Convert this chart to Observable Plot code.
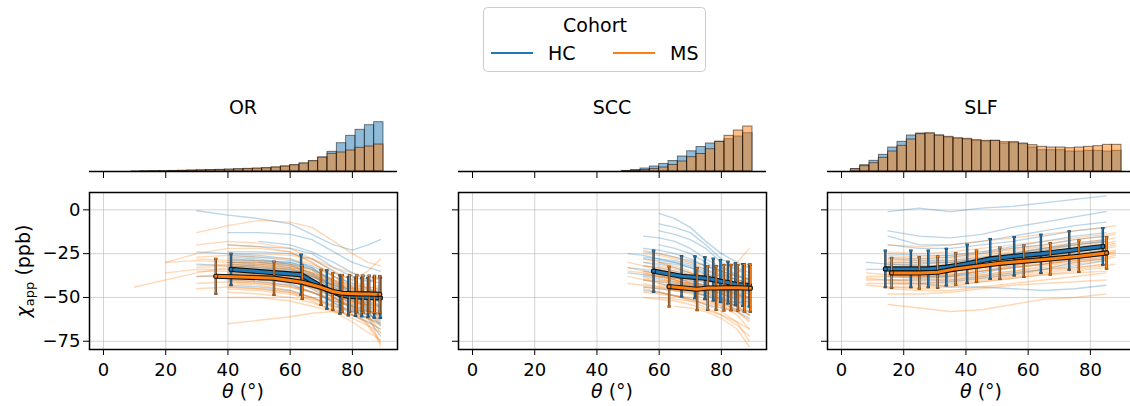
<!DOCTYPE html>
<html><head><meta charset="utf-8">
<script src="https://cdn.jsdelivr.net/npm/d3@7"></script>
<script src="https://cdn.jsdelivr.net/npm/@observablehq/plot@0.6"></script>
<style>
body{margin:0;background:#fff;font-family:"DejaVu Sans",sans-serif;}
#root{position:relative;width:1130px;height:406px;overflow:hidden;background:#fff;}
#root svg{position:absolute;overflow:visible;}
</style></head><body><div id="root"></div>
<script>
// ---------- data ----------
const panels = ["OR", "SCC", "SLF"];
const cohorts = ["HC", "MS"];
const cohortColors = ["#1f77b4", "#ff7f0e"];
const xTicks = [0, 20, 40, 60, 80];
const yTicks = [0, -25, -50, -75];

// histogram bins (lower edges, degrees)
const binStarts = [0,3,6,9,12,15,18,21,24,27,30,33,36,39,42,45,48,51,54,57,60,63,66,69,72,75,78,81,84,87];
const binWidth = 3;
const histOR_HC  = [0,0,0,0,0.1,0.2,0.3,0.5,0.6,0.8,1.0,1.2,1.4,1.7,2.0,2.3,2.7,3.0,3.7,4.7,6.0,7.7,10,14,19.7,28.3,35.7,41.7,46.3,49.3];
const histOR_MS  = [0,0,0,0.2,0.2,0.3,0.4,0.6,0.8,1.0,1.2,1.4,1.7,2.0,2.3,2.7,3.0,3.4,4.2,5.2,6.4,8.2,10.5,14,17.7,19,21,23.7,25,27];
const histSCC_HC = [0,0,0,0,0,0,0,0,0,0,0,0,0,0,0,0,0.6,1.5,3,5,7.6,10.5,15,20.2,24.5,28,29.8,32.3,35,38.3];
const histSCC_MS = [0,0,0,0,0,0,0,0,0,0,0,0,0,0,0,0,0.3,0.7,1.5,2.6,4,6.5,10,14.3,17.5,22.3,29.7,35.7,41,45];
const histSLF_HC = [0,2.3,6.3,10.7,16.7,24,29.7,36,38,37.7,36,34,32.7,32,30.7,30,30.7,28,28.7,27.3,24,21.3,21.3,21.3,20,20,20.7,20.7,20,20.7];
const histSLF_MS = [0,2.3,5.3,8.3,13.7,20,25.7,32,37.3,38.3,36,34.7,33.3,32.7,31.3,30.7,30.7,29.3,29.3,28,26.3,24.7,24,24,23.3,24,24.7,25.3,26.7,26.7];

// individual subject curves (chi_app in ppb at each panel's theta grid)
const gridOR  = [10,20,30,40,50,60,67,74,80,85,89];
const gridSCC = [50,55,60,65,70,75,80,85,89];
const gridSLF = [8,15,25,35,45,55,65,75,85,88];
const linesOR_HC = [
[null,null,-0.5,-3,-5,-8,-14,-20,-23,-20,-17],
[null,null,null,-13,-13,-14,-17,-24,-30,-33,-35],
[null,null,null,-20,-21,-22,-25,-33,-38,-41,-38],
[null,null,-24,-25,-26,-28,-33,-42,-48,-52,-55],
[null,null,null,-28,-29,-30,-34,-44,-52,-56,-60],
[null,null,null,-30,-31,-33,-38,-45,-55,-60,-63],
[null,null,-31,-32,-33,-35,-40,-48,-54,-58,-66],
[null,null,null,-33,-34,-36,-42,-50,-57,-62,-72],
[null,null,null,-36,-37,-40,-45,-53,-60,-64,-68],
[null,null,null,-38,-39,-42,-47,-52,-55,-58,-60],
[null,null,null,-43,-44,-46,-50,-55,-58,-60,-62],
[null,null,null,-26,-27,-29,-32,-38,-42,-45,-47],
[null,null,null,null,-18,-20,-24,-30,-36,-40,-42],
[null,null,null,-35,-36,-37,-40,-46,-50,-48,-45],
[null,null,null,null,-40,-41,-44,-48,-50,-51,-52],
[null,null,-38,-37,-38,-40,-44,-50,-56,-60,-58],
[null,null,null,-30,-30,-32,-36,-44,-50,-53,-55],
[null,null,null,-34,-35,-37,-42,-48,-52,-54,-56],
[null,null,null,-27,-28,-31,-37,-46,-51,-50,-48],
[null,null,null,-40,-41,-43,-47,-53,-58,-62,-65],
[null,null,null,-32,-33,-34,-38,-43,-46,-47,-44],
[null,null,null,null,-30,-31,-34,-40,-47,-55,-58],
[null,null,null,-24,-24,-25,-28,-35,-44,-50,-52],
[null,null,null,-37,-38,-39,-42,-47,-49,-50,-53],
[null,null,null,-31,-32,-34,-37,-43,-49,-57,-61],
[null,null,null,-29,-29,-30,-33,-41,-47,-49,-50]
];
const linesOR_MS = [
[-44,-40,-36,-33,-31,-32,-36,-45,-50,-55,-60],
[null,-30,-25,-22,-22,-24,-30,-38,-45,-50,-55],
[null,null,-20,-18,-19,-22,-28,-35,-40,-45,-48],
[null,null,-28,-29,-30,-31,-34,-40,-45,-48,-50],
[null,null,-35,-35,-36,-38,-42,-48,-53,-57,-62],
[null,null,null,-38,-39,-41,-45,-50,-55,-60,-70],
[null,null,-45,-44,-45,-47,-50,-54,-58,-62,-66],
[null,null,null,-50,-50,-52,-55,-58,-60,-65,-75],
[null,null,null,-33,-34,-35,-40,-46,-52,-55,-58],
[null,null,null,-40,-41,-43,-47,-52,-54,-52,-50],
[null,null,null,-25,-25,-26,-28,-33,-36,-38,-40],
[null,null,-13,-9,-6,-7,-10,-18,-25,-30,-32],
[null,null,null,-42,-43,-46,-50,-56,-62,-66,-70],
[null,null,null,-47,-48,-50,-53,-57,-60,-64,-68],
[null,null,null,-65,-63,-61,-59,-58,-60,-62,-64],
[null,null,-33,-32,-33,-34,-38,-44,-48,-50,-52],
[null,null,null,-30,-30,-32,-36,-42,-46,-42,-38],
[null,-36,-34,-34,-35,-37,-42,-48,-52,-58,-78],
[null,null,null,-37,-37,-39,-43,-50,-56,-66,-76],
[null,null,null,-20,-21,-24,-30,-38,-44,-46,-48],
[null,null,-27,-26,-27,-28,-31,-36,-40,-35,-28],
[null,null,null,-44,-45,-47,-52,-58,-64,-70,-74],
[null,null,null,-36,-37,-38,-42,-47,-50,-52,-54],
[null,null,-32,-31,-32,-34,-38,-43,-47,-49,-51],
[null,null,null,-41,-42,-44,-47,-51,-53,-54,-55],
[null,null,null,-28,-29,-31,-35,-41,-45,-47,-48],
[null,null,-38,-38,-39,-41,-44,-49,-52,-55,-57],
[null,null,null,-34,-35,-37,-41,-46,-49,-51,-50],
[null,null,null,-45,-46,-48,-51,-55,-57,-58,-60],
[null,-30,-29,-30,-31,-33,-37,-42,-45,-45,-43],
[null,null,null,-39,-40,-41,-44,-48,-51,-53,-56],
[null,null,null,-31,-32,-33,-36,-40,-43,-44,-45],
[null,null,-42,-41,-42,-44,-47,-52,-55,-57,-61],
[null,null,null,-36,-36,-38,-42,-47,-51,-55,-65]
];
const linesSCC_HC = [
[null,null,-2,-5,-10,-18,-25,-30,-33],
[null,null,-8,-10,-13,-20,-28,-33,-36],
[null,-15,-16,-18,-22,-28,-33,-37,-40],
[null,-22,-23,-25,-28,-32,-36,-40,-42],
[-25,-26,-28,-30,-33,-37,-40,-43,-45],
[null,-30,-31,-33,-36,-40,-44,-47,-50],
[-33,-34,-35,-37,-40,-44,-48,-52,-55],
[null,-38,-39,-41,-44,-47,-51,-55,-60],
[null,null,-42,-44,-46,-49,-53,-57,-58],
[null,-46,-47,-49,-51,-54,-56,-58,-62],
[null,null,-12,-14,-17,-22,-30,-34,-38],
[null,-28,-29,-30,-32,-35,-38,-42,-44],
[null,null,-20,-22,-25,-30,-35,-38,-40],
[null,-35,-36,-38,-42,-45,-50,-53,-52],
[null,-32,-33,-35,-37,-40,-43,-46,-48],
[null,-27,-28,-29,-31,-34,-37,-40,-41],
[null,null,-36,-37,-39,-42,-45,-48,-50],
[null,-40,-41,-42,-43,-45,-48,-51,-54],
[null,-24,-25,-27,-29,-32,-35,-38,-39],
[null,null,-30,-31,-33,-36,-40,-44,-47],
[-36,-37,-38,-39,-41,-43,-46,-49,-51],
[null,-44,-45,-46,-47,-49,-51,-53,-56]
];
const linesSCC_MS = [
[-30,-32,-34,-36,-38,-40,-42,-44,-46],
[null,-25,-26,-28,-30,-32,-35,-30,-22],
[null,-35,-37,-39,-41,-43,-45,-48,-52],
[-38,-40,-42,-44,-46,-48,-51,-55,-60],
[null,-42,-44,-46,-48,-51,-55,-60,-68],
[null,null,-47,-49,-51,-54,-58,-64,-75],
[null,-45,-47,-49,-52,-56,-60,-66,-72],
[null,-28,-30,-33,-36,-38,-40,-42,-40],
[null,null,-38,-40,-42,-44,-46,-48,-50],
[-33,-35,-37,-40,-43,-46,-50,-54,-57],
[null,-50,-51,-52,-54,-57,-60,-64,-68],
[null,null,-40,-41,-42,-43,-44,-45,-47],
[null,-36,-38,-40,-43,-47,-52,-58,-64],
[null,null,-30,-32,-35,-37,-38,-36,-32],
[null,null,null,-55,-56,-58,-62,-68,-78],
[null,-23,-25,-27,-30,-34,-38,-40,-42],
[null,-44,-45,-46,-47,-49,-52,-55,-58],
[null,-40,-41,-42,-43,-44,-46,-48,-51],
[null,-37,-38,-39,-40,-41,-43,-45,-47],
[-42,-43,-44,-45,-46,-47,-48,-50,-53],
[null,-32,-33,-35,-37,-39,-41,-43,-44],
[null,-47,-48,-49,-50,-52,-54,-57,-60],
[null,null,-43,-44,-45,-46,-47,-49,-50],
[-35,-36,-38,-40,-42,-44,-47,-50,-53],
[null,-39,-40,-41,-42,-44,-46,-47,-48],
[null,-30,-32,-34,-36,-38,-40,-41,-39],
[null,null,-50,-51,-52,-53,-55,-58,-63]
];
const linesSLF_HC = [
[null,-1,1,-1,1,2,4,6,8,null],
[null,-12,-15,-16,-14,-10,-7,-4,-1,null],
[null,-15,-20,-20,-18,-15,-12,-9,-7,null],
[null,-20,-22,-22,-20,-18,-15,-12,-10,null],
[null,-25,-26,-26,-24,-21,-18,-15,-13,null],
[null,-28,-29,-29,-27,-25,-22,-19,-17,null],
[null,-31,-32,-32,-30,-27,-24,-22,-20,null],
[-34,-34,-35,-34,-32,-29,-27,-24,-22,null],
[null,-37,-38,-38,-35,-32,-29,-27,-25,null],
[null,-40,-40,-40,-38,-36,-34,-30,-28,null],
[null,null,-42,-44,-44,-45,-46,-45,-43,null],
[null,-30,-30,-30,-28,-26,-23,-20,-18,null],
[null,-36,-36,-35,-33,-31,-28,-26,-24,null],
[null,-33,-33,-32,-30,-27,-25,-23,-21,null],
[null,-38,-39,-38,-36,-33,-31,-28,-26,null],
[-30,-31,-31,-30,-28,-25,-22,-20,-18,null],
[null,-35,-36,-35,-33,-30,-27,-25,-23,null],
[null,-42,-42,-41,-39,-37,-34,-32,-29,null],
[null,-27,-28,-27,-25,-22,-20,-17,-15,null],
[null,-32,-34,-34,-32,-29,-26,-23,-20,null]
];
const linesSLF_MS = [
[-38,-38,-38,-37,-35,-33,-31,-29,-27,-26],
[-42,-42,-43,-42,-40,-38,-36,-34,-32,-31],
[null,-45,-46,-46,-44,-42,-40,-38,-36,null],
[null,-35,-35,-34,-32,-30,-28,-26,-24,-23],
[null,-32,-32,-31,-29,-27,-25,-23,-21,-20],
[null,-28,-28,-27,-25,-23,-21,-19,-17,-16],
[null,-24,-25,-24,-22,-20,-18,-16,-14,-13],
[null,-20,-21,-20,-18,-16,-14,-12,-10,-9],
[null,-54,-56,-58,-57,-54,-51,-50,-48,null],
[-40,-40,-41,-40,-38,-36,-34,-33,-31,null],
[null,-36,-37,-36,-34,-32,-30,-28,-26,-25],
[null,-30,-30,-29,-27,-25,-23,-21,-19,-18],
[null,-44,-45,-44,-41,-39,-37,-36,-35,null],
[null,-48,-48,-47,-45,-43,-42,-41,-40,null],
[null,-33,-34,-34,-31,-28,-26,-24,-22,-21],
[null,-26,-27,-26,-24,-22,-20,-17,-15,-14],
[-36,-37,-38,-37,-35,-33,-31,-29,-28,null],
[null,-34,-35,-35,-33,-31,-29,-27,-25,-24],
[-39,-40,-40,-39,-37,-35,-33,-31,-29,null],
[null,-37,-38,-37,-35,-33,-31,-29,-27,null],
[null,-31,-31,-30,-28,-26,-24,-22,-20,-19],
[null,-41,-42,-41,-39,-37,-35,-33,-31,null],
[null,-35,-36,-35,-33,-31,-29,-27,-25,-24],
[null,-29,-29,-28,-26,-24,-22,-20,-18,null],
[-43,-44,-44,-43,-41,-39,-37,-35,-33,null],
[null,-38,-39,-38,-37,-35,-32,-30,-28,-27],
[null,-33,-33,-32,-30,-28,-26,-25,-23,null]
];

// binned cohort means ± SD
const meanOR_HC_theta = [41,63.5,71.8,76,78.7,81,83,85,87,89];
const meanOR_HC_chi   = [-34,-37,-45.5,-48.3,-49.3,-49.6,-49.8,-50,-50.1,-50.2];
const meanOR_HC_sd    = [9,11.5,11,11,11,11,11,11.2,11.5,11.5];
const meanOR_MS_theta = [36.1,54.8,63.9,69.9,73.7,76.7,79.1,81.4,83.4,85.4,87.1,88.8];
const meanOR_MS_chi   = [-37.9,-39,-41.3,-44.2,-46.6,-47.6,-47.8,-47.9,-48,-48,-48.1,-48.2];
const meanOR_MS_sd    = [10,9.5,9.5,10,10.5,10.5,10.5,10.5,10.5,10.5,10.5,10.5];
const meanSCC_HC_theta = [58.2,67.2,71.5,74.7,77.4,79.7,82.1,84.5,86.9,89];
const meanSCC_HC_chi   = [-35,-37.9,-38.5,-39,-39.8,-40.7,-41.5,-42.5,-42.9,-43.2];
const meanSCC_HC_sd    = [11.8,11.6,12,12,12,12,12,12,12,12];
const meanSCC_MS_theta = [63.2,72.2,75.6,78.3,80.8,83.1,85.3,87.4,89.3];
const meanSCC_MS_chi   = [-43.8,-45.3,-44.6,-44.6,-44.5,-44.4,-44.5,-44.6,-44.7];
const meanSCC_MS_sd    = [11.4,12,12.5,12.5,13,13,13,13.5,13.5];
const meanSLF_HC_theta = [14.1,22.3,27.9,33.7,40.4,47.8,55.5,64.1,73.2,84];
const meanSLF_HC_chi   = [-33.7,-33.7,-33.7,-32.7,-30.8,-28,-26.5,-25.1,-23.2,-20.9];
const meanSLF_HC_sd    = [10.5,10.5,10.5,10.5,11,11.4,11,11,11,10.5];
const meanSLF_MS_theta = [16.1,25,30.9,36.7,43.4,50.9,58.6,67.1,76.3,85.2];
const meanSLF_MS_chi   = [-36,-36,-35.6,-33.7,-32.2,-30.5,-29.3,-28,-26.5,-24.6];
const meanSLF_MS_sd    = [8.6,9,9,9,9,9,9,9,9,9];

// ---------- tables ----------
const histSrc = {OR:[histOR_HC,histOR_MS], SCC:[histSCC_HC,histSCC_MS], SLF:[histSLF_HC,histSLF_MS]};
const lineSrc = {OR:[gridOR,linesOR_HC,linesOR_MS], SCC:[gridSCC,linesSCC_HC,linesSCC_MS], SLF:[gridSLF,linesSLF_HC,linesSLF_MS]};
const meanSrc = {
  OR:[[meanOR_HC_theta,meanOR_HC_chi,meanOR_HC_sd],[meanOR_MS_theta,meanOR_MS_chi,meanOR_MS_sd]],
  SCC:[[meanSCC_HC_theta,meanSCC_HC_chi,meanSCC_HC_sd],[meanSCC_MS_theta,meanSCC_MS_chi,meanSCC_MS_sd]],
  SLF:[[meanSLF_HC_theta,meanSLF_HC_chi,meanSLF_HC_sd],[meanSLF_MS_theta,meanSLF_MS_chi,meanSLF_MS_sd]]
};

// ---------- layout ----------
const frameLeft = [89, 458, 827];
const frameW = 308, mainTop = 192, mainH = 157;
const histBase = 170.7, histH = 55;
const ML = 60, MR = 5;
const xDomain = [-4.5, 94.5];
const yDomain = [-79.7, 9.9];
const capHalf = 0.55;
const root = document.getElementById("root");
const baseStyle = {fontFamily: "DejaVu Sans", fontSize: "18px", color: "black", background: "transparent", overflow: "visible"};

function place(svg, left, top) {
  svg.style.left = left + "px";
  svg.style.top = top + "px";
  root.appendChild(svg);
}

panels.forEach((p, pi) => {
  // histogram
  const hrows = [];
  cohorts.forEach((c, ci) => histSrc[p][ci].forEach((v, i) => {
    hrows.push({cohort: c, x1: binStarts[i], x2: binStarts[i] + binWidth, v});
  }));
  const hist = Plot.plot({
    width: ML + frameW + MR, height: histH + 14,
    marginLeft: ML, marginRight: MR, marginTop: 0, marginBottom: 14,
    x: {domain: xDomain, ticks: xTicks, tickSize: 7, tickFormat: () => "", label: null},
    y: {domain: [0, histH], axis: null},
    style: baseStyle,
    marks: [
      ...cohorts.map((c, ci) => Plot.rectY(hrows.filter(d => d.cohort === c && d.v > 0), {
        x1: "x1", x2: "x2", y: "v", fill: cohortColors[ci], fillOpacity: 0.5,
        stroke: "black", strokeOpacity: 0.55, strokeWidth: 0.9, inset: 0
      })),
      Plot.ruleY([0], {stroke: "black", strokeWidth: 1.5})
    ]
  });
  place(hist, frameLeft[pi] - ML, histBase - histH);

  // main panel
  const [grid, ...lineSets] = lineSrc[p];
  const lrows = [];
  lineSets.forEach((set, ci) => set.forEach((arr, li) => arr.forEach((v, k) => {
    if (v !== null) lrows.push({cohort: cohorts[ci], id: cohorts[ci] + li, theta: grid[k], chi: v});
  })));
  const mrows = [];
  meanSrc[p].forEach(([th, mu, sd], ci) => th.forEach((t, k) => mrows.push({cohort: cohorts[ci], theta: t, mean: mu[k], sd: sd[k]})));

  const meanMarks = [];
  cohorts.forEach((c, ci) => {
    const d = mrows.filter(r => r.cohort === c);
    const col = cohortColors[ci];
    const lo = r => r.mean - r.sd, hi = r => r.mean + r.sd;
    const cx1 = r => r.theta - capHalf, cx2 = r => r.theta + capHalf;
    meanMarks.push(
      Plot.ruleX(d, {x: "theta", y1: lo, y2: hi, stroke: "#333", strokeWidth: 2.4}),
      Plot.link(d, {x1: cx1, x2: cx2, y1: hi, y2: hi, stroke: "#333", strokeWidth: 2}),
      Plot.link(d, {x1: cx1, x2: cx2, y1: lo, y2: lo, stroke: "#333", strokeWidth: 2}),
      Plot.ruleX(d, {x: "theta", y1: lo, y2: hi, stroke: col, strokeWidth: 1.2}),
      Plot.link(d, {x1: cx1, x2: cx2, y1: hi, y2: hi, stroke: col, strokeWidth: 0.8}),
      Plot.link(d, {x1: cx1, x2: cx2, y1: lo, y2: lo, stroke: col, strokeWidth: 0.8}),
      Plot.line(d, {x: "theta", y: "mean", stroke: "#111", strokeWidth: 5.2}),
      Plot.line(d, {x: "theta", y: "mean", stroke: col, strokeWidth: 3}),
      Plot.dot(d.filter((r, k) => k === 0 || k === d.length - 1), {x: "theta", y: "mean", symbol: "square", r: 2, fill: col, stroke: "#111", strokeWidth: 0.8})
    );
  });

  const main = Plot.plot({
    width: ML + frameW + MR, height: 2 + mainH + 57,
    marginLeft: ML, marginRight: MR, marginTop: 2, marginBottom: 57,
    x: {domain: xDomain, ticks: xTicks, tickSize: 6, tickPadding: 8, label: null},
    y: {domain: yDomain, ticks: yTicks, tickSize: 6, tickPadding: 3, label: null,
        tickFormat: pi === 0 ? undefined : () => ""},
    style: baseStyle,
    marks: [
      Plot.ruleX(xTicks, {stroke: "#b0b0b0", strokeOpacity: 0.55, strokeWidth: 1}),
      Plot.ruleY(yTicks, {stroke: "#b0b0b0", strokeOpacity: 0.55, strokeWidth: 1}),
      ...cohorts.map((c, ci) => Plot.line(lrows.filter(r => r.cohort === c), {
        x: "theta", y: "chi", z: "id", stroke: cohortColors[ci], strokeOpacity: 0.3, strokeWidth: 1.4
      })),
      ...meanMarks,
      Plot.frame({stroke: "black", strokeWidth: 1.5})
    ]
  });
  place(main, frameLeft[pi] - ML, mainTop - 2);
});

// ---------- text overlay: titles, axis labels, legend ----------
const ov = d3.select(root).append("svg")
  .attr("width", 1130).attr("height", 406)
  .style("left", "0px").style("top", "0px")
  .style("font-family", "DejaVu Sans").style("pointer-events", "none");

panels.forEach((p, pi) => {
  const cx = frameLeft[pi] + frameW / 2;
  ov.append("text").attr("x", cx).attr("y", 114).attr("text-anchor", "middle")
    .attr("font-size", 19).text(p);
  const xl = ov.append("text").attr("x", cx).attr("y", 398).attr("text-anchor", "middle").attr("font-size", 19);
  xl.append("tspan").attr("font-style", "italic").text("θ");
  xl.append("tspan").text(" (°)");
});

const yl = ov.append("text").attr("transform", "translate(30,271) rotate(-90)")
  .attr("text-anchor", "middle").attr("font-size", 19);
yl.append("tspan").attr("font-style", "italic").text("χ");
yl.append("tspan").attr("font-size", 13).attr("dy", 4).text("app");
yl.append("tspan").attr("dy", -4).text(" (ppb)");

// legend
const lg = ov.append("g");
lg.append("rect").attr("x", 483.5).attr("y", 7.5).attr("width", 222).attr("height", 64)
  .attr("rx", 4).attr("fill", "white").attr("stroke", "#cccccc").attr("stroke-width", 1);
lg.append("text").attr("x", 595).attr("y", 32).attr("text-anchor", "middle").attr("font-size", 19).text("Cohort");
cohorts.forEach((c, ci) => {
  const x0 = ci === 0 ? 491 : 613;
  lg.append("line").attr("x1", x0).attr("x2", x0 + 42).attr("y1", 53).attr("y2", 53)
    .attr("stroke", cohortColors[ci]).attr("stroke-width", 2);
  lg.append("text").attr("x", x0 + 57).attr("y", 60).attr("font-size", 19).text(c);
});
</script></body></html>
